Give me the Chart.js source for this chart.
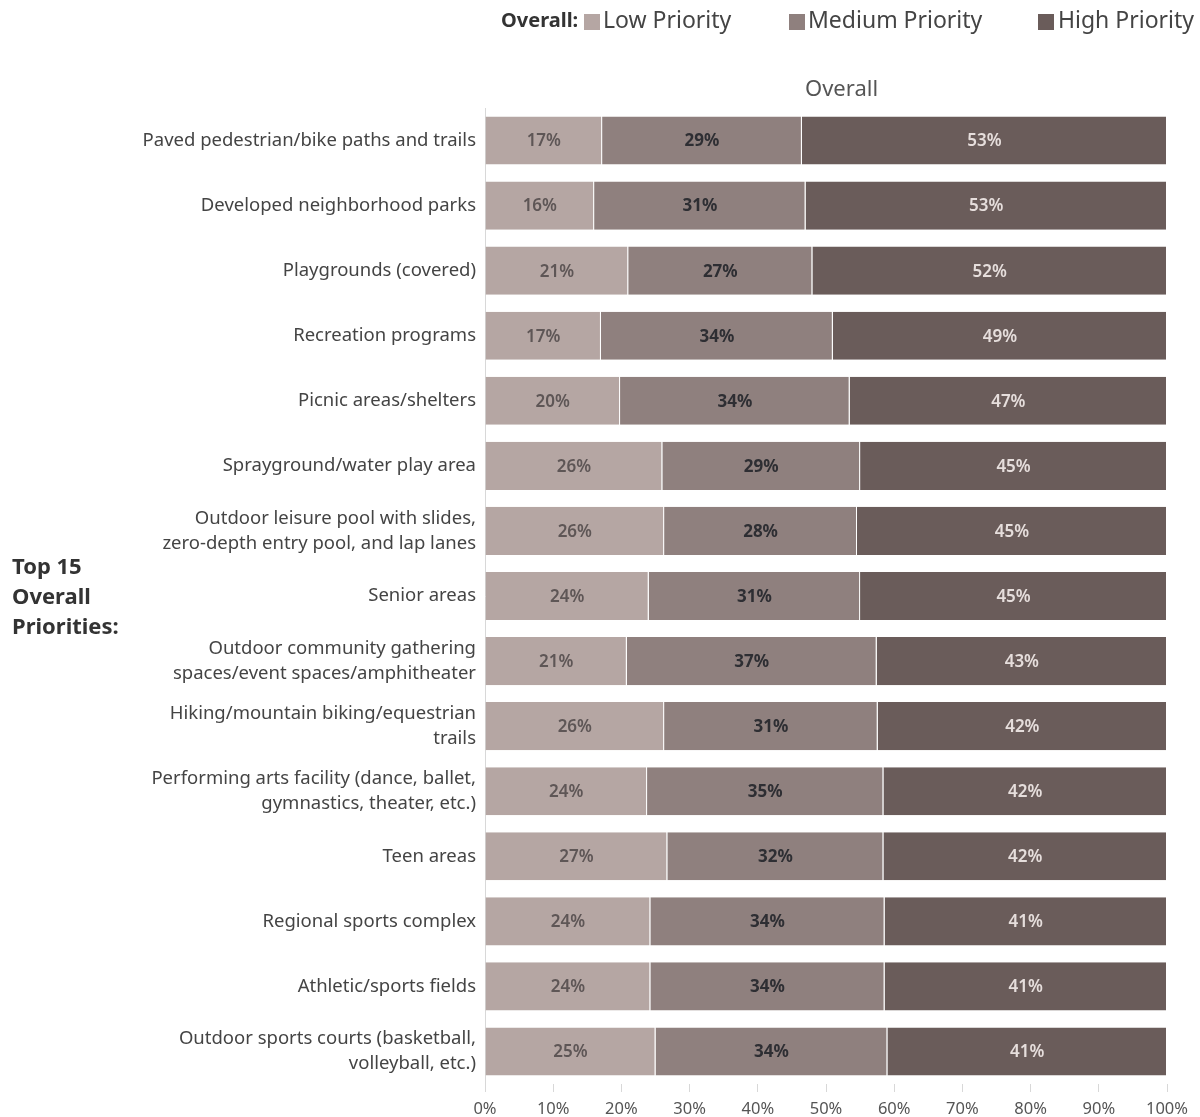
<!DOCTYPE html>
<html>
<head>
<meta charset="utf-8">
<script src="https://cdn.jsdelivr.net/npm/chart.js@4"></script>
<style>
  body { margin: 0; background: #fff; font-family: "Noto Sans", "Open Sans", sans-serif; color: #444; }
  #wrap { position: relative; width: 1200px; height: 1117px; }
  #chart { position: absolute; left: 0; top: 0; }
  .txt { position: absolute; white-space: nowrap; line-height: 1; }
  .sw { position: absolute; width: 16px; height: 16px; }
</style>
</head>
<body>
<div id="wrap">
  <canvas id="chart" width="1200" height="1117"></canvas>
  <span class="txt" style="left:501px; top:10px; font-size:20px; font-weight:bold; color:#333;">Overall:</span>
  <span class="sw" style="left:584px; top:14px; background:#b5a6a3;"></span>
  <span class="txt" style="left:603px; top:8px; font-size:23px;">Low Priority</span>
  <span class="sw" style="left:789px; top:14px; background:#8f807e;"></span>
  <span class="txt" style="left:808px; top:8px; font-size:23px;">Medium Priority</span>
  <span class="sw" style="left:1038px; top:14px; background:#6a5c5a;"></span>
  <span class="txt" style="left:1058px; top:8px; font-size:23px;">High Priority</span>
  <span class="txt" style="left:805px; top:76px; font-size:22px; color:#555;">Overall</span>
  <div class="txt" style="left:12px; top:550px; font-size:22px; font-weight:bold; color:#333; line-height:30px;">Top 15<br>Overall<br>Priorities:</div>
</div>
<script>
const categories = [
  "Paved pedestrian/bike paths and trails",
  "Developed neighborhood parks",
  "Playgrounds (covered)",
  "Recreation programs",
  "Picnic areas/shelters",
  "Sprayground/water play area",
  ["Outdoor leisure pool with slides,", "zero-depth entry pool, and lap lanes"],
  "Senior areas",
  ["Outdoor community gathering", "spaces/event spaces/amphitheater"],
  ["Hiking/mountain biking/equestrian", "trails"],
  ["Performing arts facility (dance, ballet,", "gymnastics, theater, etc.)"],
  "Teen areas",
  "Regional sports complex",
  "Athletic/sports fields",
  ["Outdoor sports courts (basketball,", "volleyball, etc.)"],
];
const lowPriority = [17, 16, 21, 17, 20, 26, 26, 24, 21, 26, 24, 27, 24, 24, 25];
const mediumPriority = [29, 31, 27, 34, 34, 29, 28, 31, 37, 31, 35, 32, 34, 34, 34];
const highPriority = [53, 53, 52, 49, 47, 45, 45, 45, 43, 42, 42, 42, 41, 41, 41];
const xTicks = [0, 10, 20, 30, 40, 50, 60, 70, 80, 90, 100];

// bars are percent of total, so each row fills to 100%
const totals = categories.map((_, i) => lowPriority[i] + mediumPriority[i] + highPriority[i]);
const share = (arr) => arr.map((v, i) => (v / totals[i]) * 100);

const series = [
  { label: "Low Priority", raw: lowPriority, color: "#b5a6a3", text: "#5e5656", weight: "600" },
  { label: "Medium Priority", raw: mediumPriority, color: "#8f807e", text: "#2e2e33", weight: "bold" },
  { label: "High Priority", raw: highPriority, color: "#6a5c5a", text: "#e6dedc", weight: "600" },
];

const barLabels = {
  id: "barLabels",
  afterDatasetsDraw(chart) {
    const ctx = chart.ctx;
    ctx.save();
    ctx.textAlign = "center";
    ctx.textBaseline = "middle";
    chart.data.datasets.forEach((ds, di) => {
      const s = series[di];
      ctx.fillStyle = s.text;
      ctx.font = `${s.weight} 17px "Noto Sans", "Open Sans", sans-serif`;
      chart.getDatasetMeta(di).data.forEach((bar, i) => {
        ctx.fillText(`${s.raw[i]}%`, (bar.x + bar.base) / 2, bar.y + 1);
      });
    });
    ctx.restore();
  },
};

new Chart(document.getElementById("chart"), {
  type: "bar",
  data: {
    labels: categories,
    datasets: series.map((s) => ({
      label: s.label,
      data: share(s.raw),
      backgroundColor: s.color,
      borderColor: "#ffffff",
      borderWidth: { left: 0, right: 1, top: 0, bottom: 0 },
      borderSkipped: false,
      barPercentage: 0.74,
      categoryPercentage: 1,
    })),
  },
  options: {
    indexAxis: "y",
    responsive: false,
    animation: false,
    layout: { padding: { left: 0, right: 33, top: 108, bottom: 0 } },
    plugins: { legend: { display: false }, tooltip: { enabled: false } },
    scales: {
      x: {
        stacked: true,
        min: 0,
        max: 100,
        afterBuildTicks: (axis) => { axis.ticks = xTicks.map((v) => ({ value: v })); },
        afterFit: (axis) => { axis.height = 33; },
        ticks: {
          callback: (v) => `${v}%`,
          color: "#555",
          font: { size: 16.5, family: '"Noto Sans", "Open Sans", sans-serif' },
          padding: 7,
          maxRotation: 0,
        },
        grid: { drawOnChartArea: false, color: "#d8d8d8", tickLength: 8 },
        border: { display: false },
      },
      y: {
        stacked: true,
        afterFit: (axis) => { axis.width = 485; },
        ticks: {
          color: "#444",
          font: { size: 18.5, family: '"Noto Sans", "Open Sans", sans-serif', lineHeight: 1.35 },
          padding: 9,
          autoSkip: false,
        },
        grid: { display: false, drawTicks: false },
        border: { display: true, color: "#d8d8d8" },
      },
    },
  },
  plugins: [barLabels],
});
</script>
</body>
</html>
